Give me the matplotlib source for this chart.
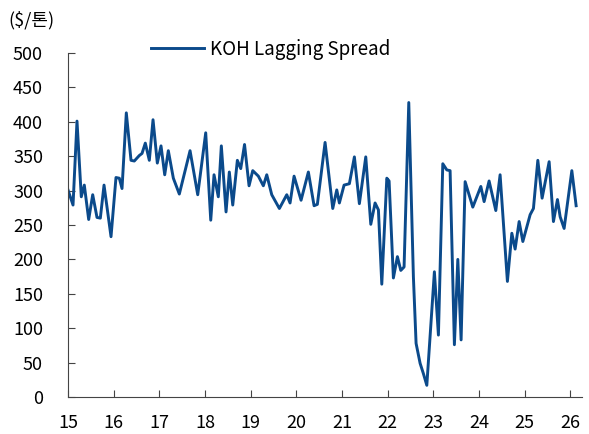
import matplotlib.pyplot as plt

plt.rcParams['font.family'] = ['Noto Sans CJK KR', 'DejaVu Sans']

# x position in years (15 = 2015)
years = [15.000, 15.110, 15.197, 15.291, 15.357, 15.453, 15.541, 15.635, 15.708, 15.789,
         15.942, 16.051, 16.124, 16.183, 16.277, 16.380, 16.452, 16.562, 16.621, 16.693,
         16.781, 16.862, 16.956, 17.037, 17.118, 17.197, 17.307, 17.438, 17.673, 17.841,
         18.016, 18.126, 18.198, 18.292, 18.358, 18.461, 18.533, 18.608, 18.709, 18.783,
         18.866, 18.965, 19.046, 19.169, 19.278, 19.353, 19.462, 19.629, 19.791, 19.863,
         19.951, 20.104, 20.264, 20.389, 20.461, 20.630, 20.798, 20.886, 20.943, 21.046,
         21.162, 21.272, 21.381, 21.521, 21.631, 21.725, 21.798, 21.872, 21.982, 22.032,
         22.126, 22.214, 22.288, 22.360, 22.463, 22.564, 22.623, 22.711, 22.783, 22.858,
         23.024, 23.112, 23.208, 23.296, 23.368, 23.462, 23.537, 23.609, 23.697, 23.865,
         24.041, 24.113, 24.222, 24.369, 24.463, 24.623, 24.720, 24.792, 24.880, 24.961,
         25.121, 25.193, 25.289, 25.383, 25.537, 25.631, 25.719, 25.778, 25.865, 26.034,
         26.128]

spread = [301, 279, 401, 291, 308, 258, 294, 261, 260, 308,
          233, 319, 318, 303, 413, 344, 343, 351, 354, 369,
          344, 403, 340, 365, 323, 358, 318, 295, 358, 294,
          384, 257, 323, 291, 365, 269, 327, 279, 344, 332,
          367, 307, 329, 321, 307, 323, 294, 274, 294, 282,
          321, 286, 327, 278, 280, 370, 274, 301, 282, 308,
          310, 349, 281, 349, 251, 282, 272, 164, 318, 314,
          173, 204, 184, 189, 428, 175, 78, 49, 34, 17,
          182, 90, 339, 330, 329, 76, 200, 83, 313, 276,
          306, 284, 314, 271, 323, 168, 238, 215, 255, 226,
          265, 274, 344, 289, 342, 255, 287, 262, 245, 329,
          278]

x_ticks = list(range(15, 27))
y_ticks = list(range(0, 501, 50))

fig = plt.figure(figsize=(5.89, 4.34), dpi=100)
ax = fig.add_axes([68 / 589, 1 - 397 / 434, (581.7 - 68) / 589, (397 - 53) / 434])

ax.plot(years, spread, color='#0B4A8B', lw=2.1, solid_joinstyle='round',
        label='KOH Lagging Spread')

ax.set_xlim(15, 26.25)
ax.set_ylim(0, 500)
ax.set_xticks(x_ticks, labels=[str(t) for t in x_ticks])
ax.set_yticks(y_ticks)
ax.tick_params(axis='both', direction='in', length=5, width=0.8, labelsize=13,
               color='#444444')
ax.tick_params(axis='x', pad=12.5)
ax.tick_params(axis='y', pad=18)
for side in ('top', 'right'):
    ax.spines[side].set_visible(False)
for side in ('left', 'bottom'):
    ax.spines[side].set_color('#444444')
    ax.spines[side].set_linewidth(0.8)

fig.text(8 / 589, 1 - 20 / 434, '($/톤)', fontsize=13, va='center', ha='left')
fig.legend(loc='center left', bbox_to_anchor=(151 / 589, 1 - 49 / 434),
           frameon=False, fontsize=13.5, handlelength=2.8, handletextpad=0.35,
           borderpad=0, borderaxespad=0)

fig.savefig('out.png', dpi=100)
